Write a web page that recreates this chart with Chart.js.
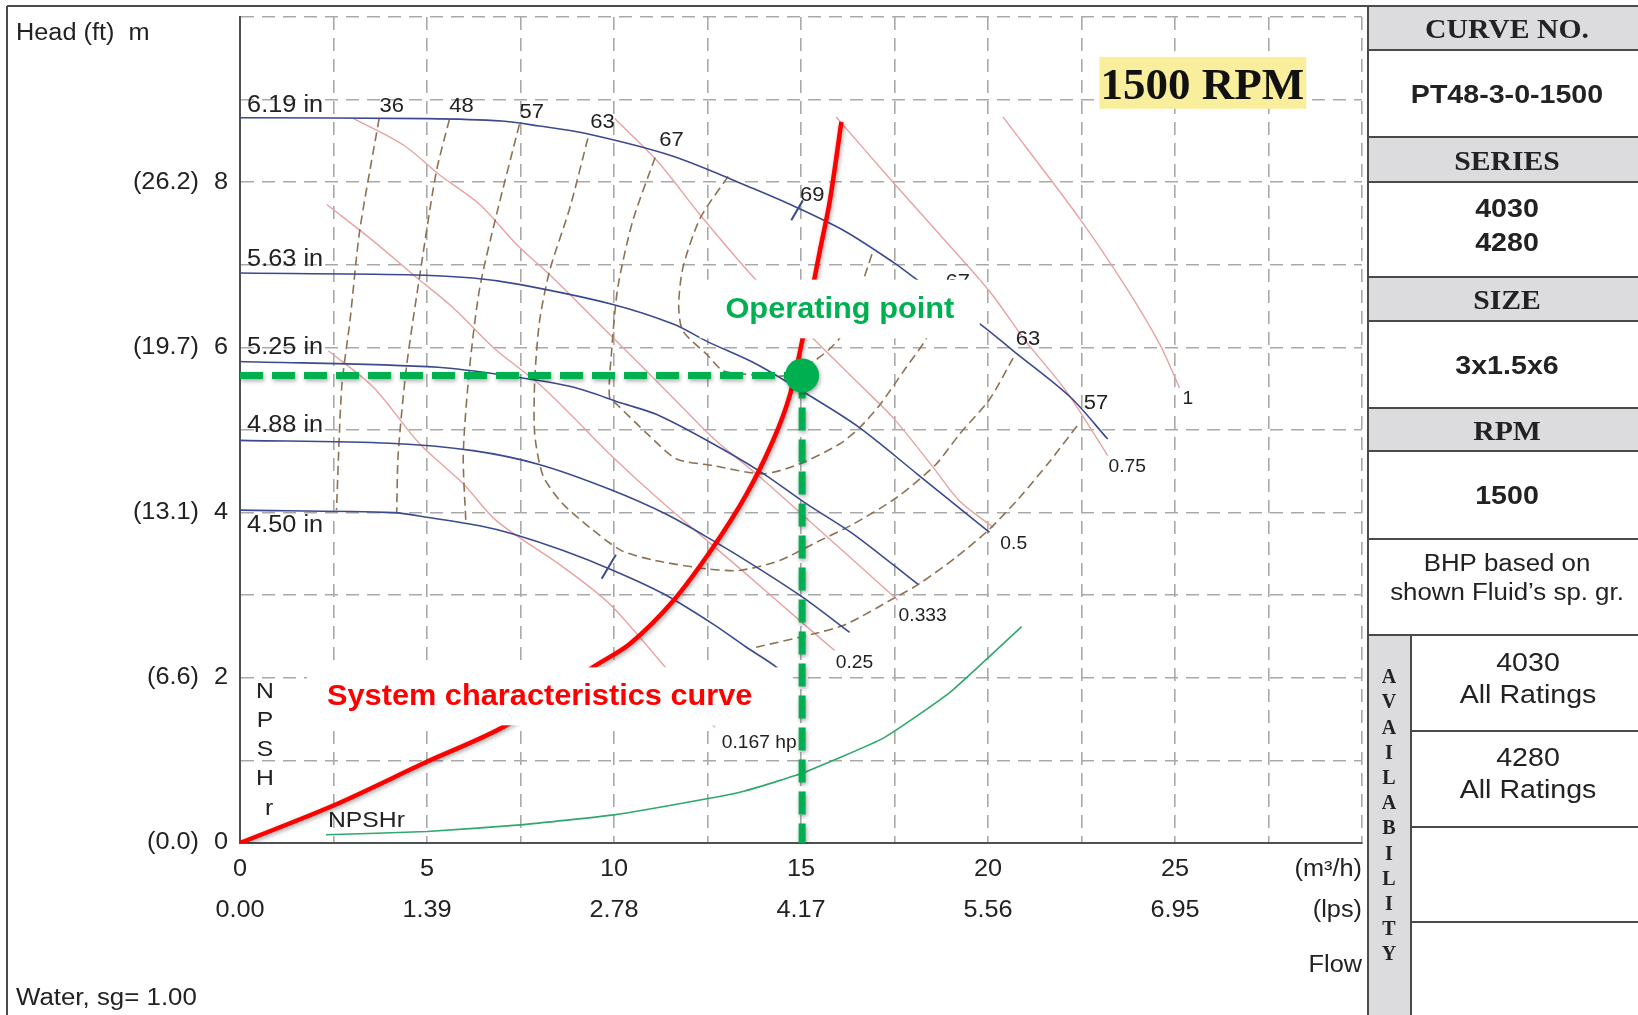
<!DOCTYPE html>
<html>
<head>
<meta charset="utf-8">
<title>PT48-3-0-1500 pump curve</title>
<script src="https://cdn.jsdelivr.net/npm/chart.js@4.4.1/dist/chart.umd.min.js"></script>
<style>
  html, body { margin: 0; padding: 0; background: #fff; }
  #chart { display: block; }
</style>
</head>
<body>
<canvas id="chart" width="1638" height="1015"></canvas>
<script>
// axis ticks
const flowTicks = [0, 5, 10, 15, 20, 25];
const lpsTicks = ['0.00', '1.39', '2.78', '4.17', '5.56', '6.95'];
const headTicks = [0, 2, 4, 6, 8];
const headFtTicks = ['(0.0)', '(6.6)', '(13.1)', '(19.7)', '(26.2)'];

// impeller curves, [flow m3/h, head m]
const imp619 = [[0, 8.78], [5, 8.77], [7, 8.74], [8, 8.68], [9.25, 8.59], [11.54, 8.32], [13.74, 7.92], [15, 7.67], [16.2, 7.4], [17.5, 7.02], [18.1, 6.82], [19.8, 6.28], [20.7, 5.95], [22.2, 5.4], [23.2, 4.89]];
const imp563 = [[0, 6.9], [4.45, 6.88], [6.23, 6.84], [7.5, 6.76], [9.97, 6.52], [11.6, 6.28], [12.5, 6.07], [13.8, 5.8], [15.0, 5.48], [16.5, 5.05], [18.1, 4.47], [20.04, 3.76]];
const imp525 = [[0, 5.83], [5.3, 5.76], [7.4, 5.64], [8.9, 5.52], [10.24, 5.32], [11.13, 5.19], [12.5, 4.87], [13.9, 4.5], [15.17, 4.1], [16.4, 3.74], [18.13, 3.13]];
const imp488 = [[0, 4.875], [4.0, 4.84], [6.23, 4.75], [8.02, 4.58], [9.9, 4.28], [11.4, 3.98], [12.65, 3.66], [13.81, 3.34], [15.06, 2.97], [16.3, 2.55]];
const imp450 = [[0, 4.03], [4.1, 4.0], [5.04, 3.94], [6.41, 3.84], [7.3, 3.74], [8.64, 3.54], [9.98, 3.3], [11.31, 3.02], [12.65, 2.65], [13.54, 2.37], [14.34, 2.13], [14.7, 1.95]];
const bepMarks = [[[14.74, 7.54], [15.05, 7.78]], [[9.67, 3.2], [10.05, 3.49]]];

// efficiency contours (%)
const eff36 = [[3.72, 8.77], [3.2, 7.41], [2.94, 6.32], [2.72, 5.52], [2.58, 4.03]];
const eff48 = [[5.6, 8.76], [5.25, 8.13], [4.85, 7.0], [4.45, 5.76], [4.23, 4.71], [4.19, 4.0]];
const eff57a = [[7.47, 8.7], [6.86, 7.61], [6.41, 6.72], [6.14, 5.76], [5.97, 4.71], [6.04, 3.87]];
const eff57b = [[13.8, 2.37], [15.32, 2.53], [16.21, 2.65], [17.55, 2.98], [18.17, 3.14], [19.15, 3.46], [20.04, 3.8], [20.84, 4.18], [21.65, 4.62], [22.45, 5.09]];
const eff63 = [[9.3, 8.53], [8.82, 7.69], [8.28, 6.93], [8.01, 6.32], [7.88, 5.6], [7.88, 4.95], [8.1, 4.45], [8.6, 4.12], [9.35, 3.82], [10.2, 3.54], [11.1, 3.42], [12.47, 3.32], [13.36, 3.3], [14.43, 3.42], [15.32, 3.62], [16.39, 3.86], [17.55, 4.18], [18.6, 4.58], [19.24, 4.95], [20.04, 5.37], [20.67, 5.87]];
const eff67 = [[11.1, 8.3], [10.5, 7.53], [10.1, 6.72], [9.93, 5.92], [9.88, 5.4], [10.1, 5.3], [10.9, 4.95], [11.67, 4.65], [12.65, 4.57], [13.99, 4.47], [14.97, 4.59], [16.03, 4.83], [16.57, 5.03], [17.1, 5.3], [17.8, 5.75], [18.35, 6.11], [18.7, 6.55]];
const eff69 = [[13.05, 8.07], [12.3, 7.56], [11.84, 6.96], [11.73, 6.5], [11.84, 6.2], [12.47, 5.92], [12.9, 5.72], [13.4, 5.68], [14.6, 5.66], [15.4, 5.85], [16.03, 6.11], [16.5, 6.6], [16.92, 7.16]];

// power lines (hp)
const hp0167 = [[2.36, 5.96], [3.56, 5.52], [4.81, 4.83], [5.97, 4.35], [6.86, 3.9], [8.64, 3.34], [9.98, 2.85], [12.7, 1.4]];
const hp025 = [[2.32, 7.73], [3.56, 7.29], [4.63, 6.88], [5.7, 6.48], [6.77, 6.0], [8.01, 5.55], [8.9, 5.16], [9.88, 4.71], [11.13, 4.19], [13.5, 3.27], [15.0, 2.68], [15.9, 2.33]];
const hp0333 = [[3.04, 8.77], [4.37, 8.45], [5.33, 8.09], [6.41, 7.73], [7.39, 7.25], [8.28, 6.88], [9.0, 6.56], [9.88, 6.16], [10.77, 5.76], [11.84, 5.27], [12.73, 4.87], [13.8, 4.47], [15.0, 3.99], [17.59, 2.94]];
const hp05 = [[10.02, 8.77], [11.17, 8.25], [12.31, 7.6], [13.75, 6.84], [15.32, 6.11], [16.57, 5.55], [17.46, 5.15], [18.53, 4.55], [19.24, 4.14], [20.14, 3.82]];
const hp075 = [[15.94, 8.79], [17.46, 8.0], [18.88, 7.28], [20.04, 6.68], [21.02, 6.07], [22.09, 5.47], [23.2, 4.69]];
const hp1 = [[20.4, 8.79], [22.45, 7.56], [23.7, 6.72], [24.6, 6.03], [25.12, 5.51]];

// NPSHr and system curve
const npshr = [[2.3, 0.1], [5, 0.14], [7.5, 0.22], [10, 0.34], [12.3, 0.52], [13.5, 0.63], [15, 0.84], [17.2, 1.27], [19.0, 1.83], [20.9, 2.62]];
const systemCurve = [[0, 0], [2.53, 0.46], [4.98, 0.98], [7.1, 1.42], [9.44, 2.13], [10.42, 2.41], [11.58, 2.93], [12.65, 3.58], [13.54, 4.22], [14.25, 4.87], [14.7, 5.42], [15.05, 6.12], [15.5, 7.16], [15.77, 7.77], [16.08, 8.73]];
const operatingPoint = [15.03, 5.66];

const SANS = '"Liberation Sans", Arial, sans-serif';
const SERIF = '"Liberation Serif", "Times New Roman", serif';
const INK = '#222';

const pts = arr => arr.map(([q, h]) => ({ x: q, y: h }));

function curve(data, color, width, order, extra) {
  return Object.assign({
    data: pts(data), showLine: true, borderColor: color, borderWidth: width,
    pointRadius: 0, pointHoverRadius: 0, fill: false, tension: 0.3, order: order
  }, extra || {});
}

const BLUE = '#3b4a8d', PINK = '#e8a2a2', BROWN = '#8e7151';
const effStyle = { borderDash: [9, 5], tension: 0.25 };

const datasets = [
  { data: pts([operatingPoint]), showLine: false, pointRadius: 17, pointHoverRadius: 17,
    pointBackgroundColor: '#00b050', pointBorderWidth: 0, order: 0, shadow: true },
  curve([[0, operatingPoint[1]], operatingPoint], '#00b050', 7, 1, { tension: 0, borderDash: [23, 9], shadow: true }),
  curve([operatingPoint, [operatingPoint[0], 0]], '#00b050', 7, 1, { tension: 0, borderDash: [23, 9], shadow: true }),
  curve(systemCurve, '#ff0000', 4.5, 2, { shadow: true }),
  curve(npshr, '#2ea86b', 1.6, 3, { tension: 0.15 }),
  curve(imp619, BLUE, 1.6, 4),
  curve(imp563, BLUE, 1.6, 4),
  curve(imp525, BLUE, 1.6, 4),
  curve(imp488, BLUE, 1.6, 4),
  curve(imp450, BLUE, 1.6, 4),
  curve(bepMarks[0], BLUE, 2, 4, { tension: 0 }),
  curve(bepMarks[1], BLUE, 2, 4, { tension: 0 }),
  curve(eff36, BROWN, 1.6, 5, effStyle),
  curve(eff48, BROWN, 1.6, 5, effStyle),
  curve(eff57a, BROWN, 1.6, 5, effStyle),
  curve(eff57b, BROWN, 1.6, 5, effStyle),
  curve(eff63, BROWN, 1.6, 5, effStyle),
  curve(eff67, BROWN, 1.6, 5, effStyle),
  curve(eff69, BROWN, 1.6, 5, effStyle),
  curve(hp0167, PINK, 1.4, 6),
  curve(hp025, PINK, 1.4, 6),
  curve(hp0333, PINK, 1.4, 6),
  curve(hp05, PINK, 1.4, 6),
  curve(hp075, PINK, 1.4, 6),
  curve(hp1, PINK, 1.4, 6)
];

// label anchors in chart units [text, flow, head]
const impLabels = [['6.19 in', 0.19, 8.925], ['5.63 in', 0.19, 7.057], ['5.25 in', 0.19, 5.994], ['4.88 in', 0.19, 5.048], ['4.50 in', 0.19, 3.841]];
const effLabels = [['36', 4.06, 8.92], ['48', 5.92, 8.92], ['57', 7.8, 8.84], ['63', 9.69, 8.72], ['67', 11.54, 8.5], ['69', 15.3, 7.84], ['67', 19.19, 6.78], ['63', 21.07, 6.09], ['57', 22.89, 5.32]];
const hpLabels = [['0.167 hp', 12.88, 1.208], ['0.25', 15.93, 2.178], ['0.333', 17.61, 2.742], ['0.5', 20.33, 3.623], ['0.75', 23.22, 4.553], ['1', 25.2, 5.374]];

function text(ctx, s, x, y, size, o) {
  o = o || {};
  ctx.save();
  ctx.font = (o.bold ? 'bold ' : '') + size + 'px ' + (o.serif ? SERIF : SANS);
  ctx.fillStyle = o.color || INK;
  ctx.textAlign = o.align || 'left';
  ctx.textBaseline = o.baseline || 'middle';
  ctx.translate(x, y);
  ctx.scale(o.sx || 1.1, 1);
  ctx.fillText(s, 0, 0);
  ctx.restore();
}

function line(ctx, x1, y1, x2, y2) {
  ctx.beginPath();
  ctx.moveTo(x1, y1);
  ctx.lineTo(x2, y2);
  ctx.stroke();
}

function drawPanel(ctx) {
  const L = 1368, R = 1638, C = 1507;
  ctx.save();
  ctx.fillStyle = '#dcdcde';
  [[6, 50], [137, 182], [277, 321], [408, 451]].forEach(([a, b]) => ctx.fillRect(L, a, R - L, b - a));
  ctx.fillRect(L, 635, 43, 1015 - 635);
  ctx.strokeStyle = '#4a4a4a';
  ctx.lineWidth = 2;
  line(ctx, 7, 6, R, 6);
  line(ctx, 7, 6, 7, 1015);
  line(ctx, L, 6, L, 1015);
  line(ctx, L + 43, 635, L + 43, 1015);
  [50, 137, 182, 277, 321, 408, 451, 539, 635].forEach(y => line(ctx, L, y, R, y));
  [731, 827, 922].forEach(y => line(ctx, L + 43, y, R, y));
  ctx.restore();

  text(ctx, 'CURVE NO.', C, 31, 27, { serif: true, bold: true, align: 'center' });
  text(ctx, 'PT48-3-0-1500', C, 96, 26, { bold: true, align: 'center' });
  text(ctx, 'SERIES', C, 163, 27, { serif: true, bold: true, align: 'center' });
  text(ctx, '4030', C, 210, 26, { bold: true, align: 'center' });
  text(ctx, '4280', C, 244, 26, { bold: true, align: 'center' });
  text(ctx, 'SIZE', C, 302, 27, { serif: true, bold: true, align: 'center' });
  text(ctx, '3x1.5x6', C, 367, 26, { bold: true, align: 'center' });
  text(ctx, 'RPM', C, 433, 27, { serif: true, bold: true, align: 'center' });
  text(ctx, '1500', C, 497, 26, { bold: true, align: 'center' });
  text(ctx, 'BHP based on', C, 565, 23.5, { align: 'center' });
  text(ctx, 'shown Fluid\u2019s sp. gr.', C, 594, 23.5, { align: 'center' });
  'AVAILABILITY'.split('').forEach((ch, i) =>
    text(ctx, ch, L + 21, 678 + i * 25.2, 20, { serif: true, bold: true, align: 'center', sx: 1 }));
  const C2 = 1528;
  text(ctx, '4030', C2, 664, 26, { align: 'center' });
  text(ctx, 'All Ratings', C2, 696, 26, { align: 'center' });
  text(ctx, '4280', C2, 759, 26, { align: 'center' });
  text(ctx, 'All Ratings', C2, 791, 26, { align: 'center' });
}

const overlay = {
  id: 'overlay',
  beforeDatasetDraw(chart, args) {
    if (chart.data.datasets[args.index].shadow) {
      const ctx = chart.ctx;
      ctx.save();
      ctx.shadowColor = 'rgba(0,0,0,0.35)';
      ctx.shadowBlur = 4;
      ctx.shadowOffsetX = 1;
      ctx.shadowOffsetY = 2;
    }
  },
  afterDatasetDraw(chart, args) {
    if (chart.data.datasets[args.index].shadow) chart.ctx.restore();
  },
  afterDatasetsDraw(chart) {
    const { ctx, scales: { x, y } } = chart;
    const px = q => x.getPixelForValue(q), py = h => y.getPixelForValue(h);

    impLabels.forEach(([s, q, h]) => text(ctx, s, px(q), py(h), 23));
    effLabels.forEach(([s, q, h]) => text(ctx, s, px(q), py(h), 20, { align: 'center' }));
    hpLabels.forEach(([s, q, h]) => text(ctx, s, px(q), py(h), 17.5));
    text(ctx, 'NPSHr', px(2.35), py(0.266), 22.5);
    ['N', 'P', 'S', 'H'].forEach((ch, i) => text(ctx, ch, px(0.67), py(1.836 - i * 0.354), 22.5, { align: 'center' }));
    text(ctx, 'r', px(0.78), py(0.41), 22.5, { align: 'center' });

    // annotation boxes
    ctx.save();
    ctx.fillStyle = '#fff';
    ctx.fillRect(px(12.29), py(6.82), px(19.78) - px(12.29), py(6.11) - py(6.82));
    ctx.fillRect(px(1.79), py(2.126), px(14.78) - px(1.79), py(1.425) - py(2.126));
    ctx.fillStyle = '#f9ee9c';
    ctx.fillRect(px(22.98), py(9.517), px(28.51) - px(22.98), py(8.889) - py(9.517));
    ctx.restore();
    text(ctx, 'Operating point', px(12.98), py(6.356), 29, { bold: true, color: '#00b050', baseline: 'alphabetic', sx: 1.06 });
    text(ctx, 'System characteristics curve', px(2.325), py(1.667), 29, { bold: true, color: '#ff0000', baseline: 'alphabetic', sx: 1.06 });
    text(ctx, '1500 RPM', px(25.73), py(9.013), 45, { serif: true, bold: true, align: 'center', baseline: 'alphabetic', sx: 1, color: '#111' });
  },
  afterDraw(chart) {
    const { ctx, chartArea: ca, scales: { x, y } } = chart;
    headTicks.forEach((v, i) => {
      text(ctx, String(v), ca.left - 12, y.getPixelForValue(v), 23, { align: 'right' });
      text(ctx, headFtTicks[i], ca.left - 41, y.getPixelForValue(v), 23, { align: 'right' });
    });
    flowTicks.forEach((v, i) => {
      text(ctx, String(v), x.getPixelForValue(v), ca.bottom + 27, 23, { align: 'center' });
      text(ctx, lpsTicks[i], x.getPixelForValue(v), ca.bottom + 68, 23, { align: 'center' });
    });
    text(ctx, '(m\u00b3/h)', ca.right, ca.bottom + 27, 23, { align: 'right' });
    text(ctx, '(lps)', ca.right, ca.bottom + 68, 23, { align: 'right' });
    text(ctx, 'Flow', ca.right, ca.bottom + 123, 23, { align: 'right' });
    text(ctx, 'Head (ft)  m', 16, 34, 23);
    text(ctx, 'Water, sg= 1.00', 16, 999, 23.5);
    drawPanel(ctx);
  }
};

const gridOpts = { color: '#a9a9a9', lineWidth: 1.6, drawTicks: false };
const borderOpts = { display: true, color: '#505050', width: 2, dash: [13, 8] };

new Chart(document.getElementById('chart'), {
  type: 'scatter',
  data: { datasets: datasets },
  options: {
    responsive: false,
    animation: false,
    devicePixelRatio: 1,
    events: [],
    layout: { padding: { left: 240, right: 276, top: 15, bottom: 172 } },
    plugins: { legend: { display: false }, tooltip: { enabled: false } },
    scales: {
      x: { type: 'linear', min: 0, max: 30, ticks: { display: false, stepSize: 2.5 }, grid: gridOpts, border: borderOpts },
      y: { type: 'linear', min: 0, max: 10, ticks: { display: false, stepSize: 1 }, grid: gridOpts, border: borderOpts }
    }
  },
  plugins: [overlay]
});
</script>
</body>
</html>
